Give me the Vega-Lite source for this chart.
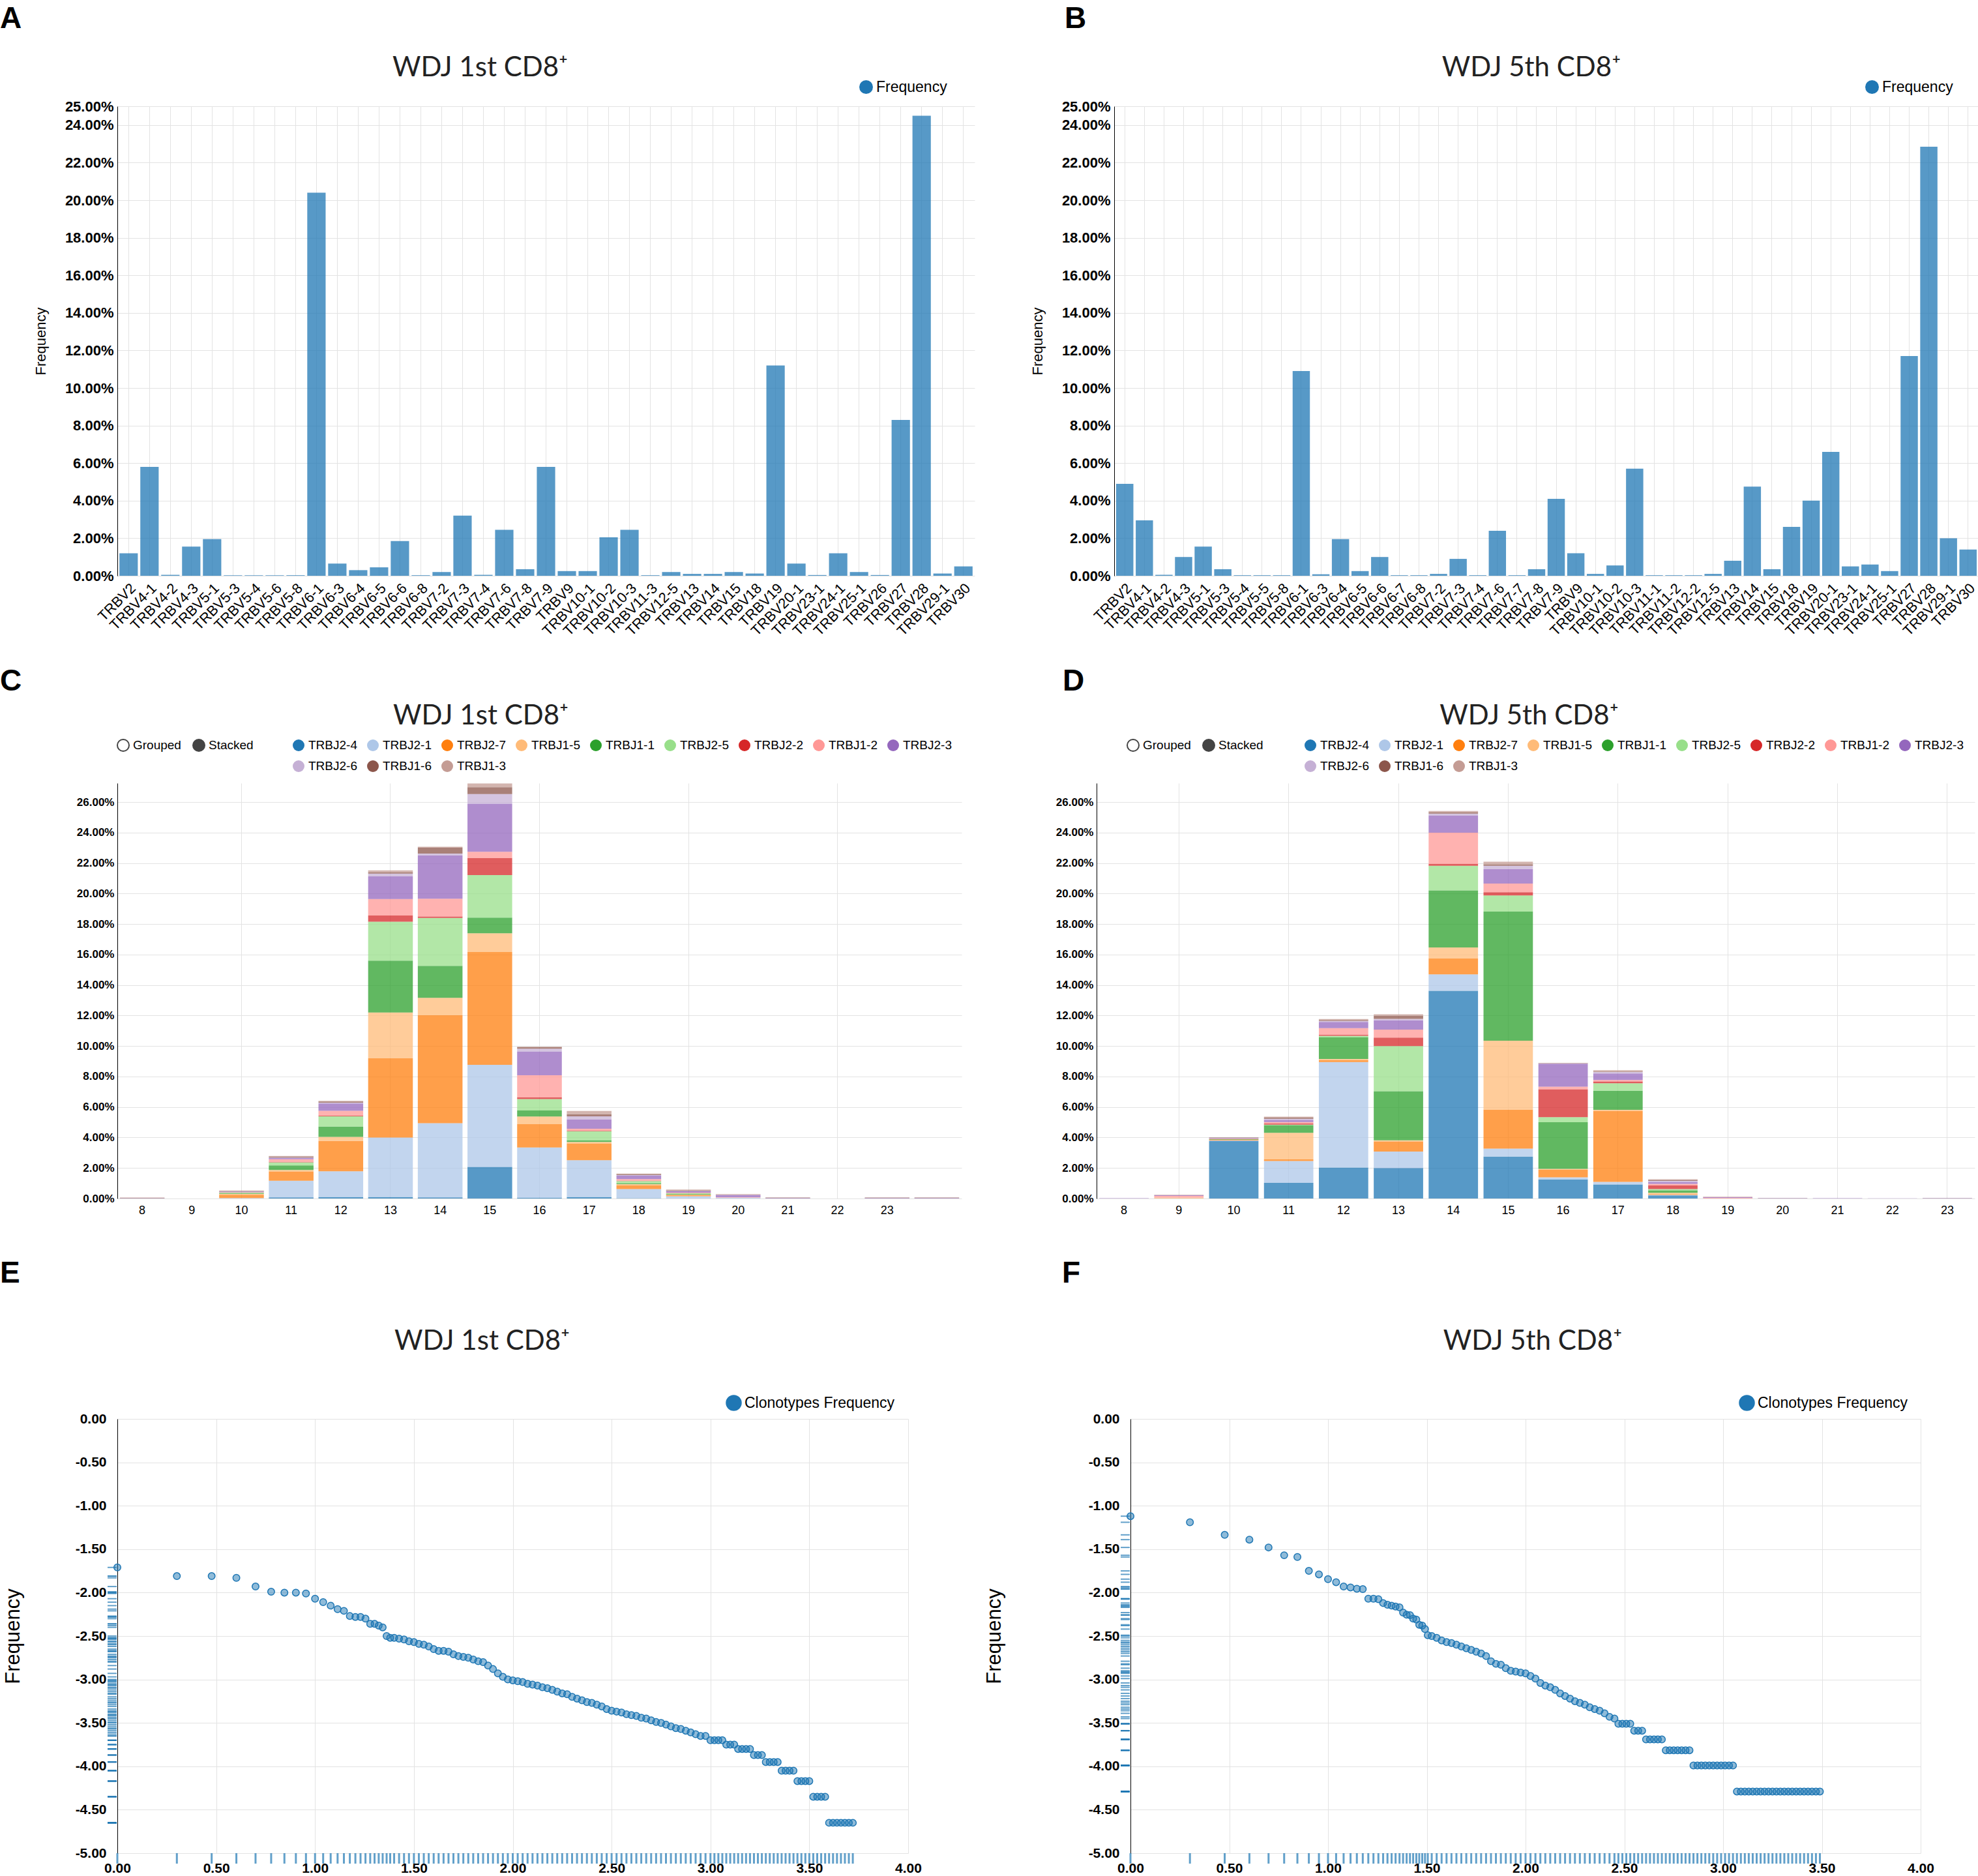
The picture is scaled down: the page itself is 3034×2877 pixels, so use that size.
{
"$schema": "https://vega.github.io/schema/vega-lite/v6.json",
"padding": {"top": 6, "left": 0, "right": 0, "bottom": 0},
"background": "white",
"spacing": 43,
"resolve": {"scale": {"color": "independent", "fill": "independent"}, "legend": {"color": "independent", "fill": "independent"}},
"config": {
  "view": {"stroke": null},
  "font": "Liberation Sans",
  "locale": {"number": {"decimal": ".", "thousands": ",", "grouping": [3], "currency": ["$", ""], "minus": "-"}},
  "title": {"font": "Lato", "fontSize": 42, "fontWeight": "normal", "color": "#222222"},
  "axis": {"labelFont": "Liberation Sans", "titleFont": "Liberation Sans", "labelColor": "#000000", "titleColor": "#000000", "gridColor": "#e3e3e3", "domainColor": "#000000", "ticks": false, "titleFontWeight": "normal"},
  "legend": {"labelFont": "Liberation Sans", "labelColor": "#000000", "labelLimit": 400}
},
"vconcat": [
{
  "spacing": 85,
  "resolve": {"scale": {"color": "independent", "fill": "independent"}, "legend": {"color": "independent", "fill": "independent"}},
  "hconcat": [
  {
    "title": {"text": "A", "anchor": "start", "frame": "group", "dx": -180, "font": "Liberation Sans", "fontSize": 46, "fontWeight": "bold", "color": "#000000", "offset": 30},
    "resolve": {"scale": {"color": "independent"}, "legend": {"color": "independent"}},
    "vconcat": [{
      "title": {"text": "WDJ  1st CD8⁺", "anchor": "middle", "frame": "group", "dx": -101, "offset": -4},
      "width": 1315, "height": 720,
      "data": {"values": [
        {"gene": "TRBV2", "freq": 1.2}, {"gene": "TRBV4-1", "freq": 5.8}, {"gene": "TRBV4-2", "freq": 0.05}, {"gene": "TRBV4-3", "freq": 1.55},
        {"gene": "TRBV5-1", "freq": 1.95}, {"gene": "TRBV5-3", "freq": 0.03}, {"gene": "TRBV5-4", "freq": 0.03}, {"gene": "TRBV5-6", "freq": 0.03},
        {"gene": "TRBV5-8", "freq": 0.03}, {"gene": "TRBV6-1", "freq": 20.4}, {"gene": "TRBV6-3", "freq": 0.65}, {"gene": "TRBV6-4", "freq": 0.3},
        {"gene": "TRBV6-5", "freq": 0.45}, {"gene": "TRBV6-6", "freq": 1.85}, {"gene": "TRBV6-8", "freq": 0.03}, {"gene": "TRBV7-2", "freq": 0.2},
        {"gene": "TRBV7-3", "freq": 3.2}, {"gene": "TRBV7-4", "freq": 0.05}, {"gene": "TRBV7-6", "freq": 2.45}, {"gene": "TRBV7-8", "freq": 0.35},
        {"gene": "TRBV7-9", "freq": 5.8}, {"gene": "TRBV9", "freq": 0.25}, {"gene": "TRBV10-1", "freq": 0.25}, {"gene": "TRBV10-2", "freq": 2.05},
        {"gene": "TRBV10-3", "freq": 2.45}, {"gene": "TRBV11-3", "freq": 0.03}, {"gene": "TRBV12-5", "freq": 0.2}, {"gene": "TRBV13", "freq": 0.1},
        {"gene": "TRBV14", "freq": 0.1}, {"gene": "TRBV15", "freq": 0.2}, {"gene": "TRBV18", "freq": 0.12}, {"gene": "TRBV19", "freq": 11.2},
        {"gene": "TRBV20-1", "freq": 0.65}, {"gene": "TRBV23-1", "freq": 0.04}, {"gene": "TRBV24-1", "freq": 1.2}, {"gene": "TRBV25-1", "freq": 0.2},
        {"gene": "TRBV26", "freq": 0.04}, {"gene": "TRBV27", "freq": 8.3}, {"gene": "TRBV28", "freq": 24.5}, {"gene": "TRBV29-1", "freq": 0.12},
        {"gene": "TRBV30", "freq": 0.5}
      ]},
      "mark": {"type": "bar", "fillOpacity": 0.75},
      "encoding": {
        "x": {"field": "gene", "type": "nominal", "sort": null, "scale": {"paddingInner": 0.12, "paddingOuter": 0.1},
              "axis": {"title": null, "labelAngle": -45, "labelFontSize": 22, "grid": true, "domain": false, "labelPadding": 8}},
        "y": {"field": "freq", "type": "quantitative", "scale": {"domain": [0, 25], "nice": false},
              "axis": {"values": [0, 2, 4, 6, 8, 10, 12, 14, 16, 18, 20, 22, 24, 25], "labelExpr": "format(datum.value, '.2f') + '%'", "title": "Frequency", "titleFontSize": 22, "titlePadding": 25, "labelFontWeight": "bold", "labelFontSize": 22, "labelPadding": 6}},
        "color": {"datum": "Frequency", "scale": {"domain": ["Frequency"], "range": ["#1f77b4"]},
                  "legend": {"title": null, "orient": "none", "legendX": 1137, "legendY": -41, "symbolType": "circle", "symbolSize": 441, "labelFontSize": 23, "symbolOpacity": 1}}
      }
    }]
  },
  {
    "title": {"text": "B", "anchor": "start", "frame": "group", "dx": -76, "font": "Liberation Sans", "fontSize": 46, "fontWeight": "bold", "color": "#000000", "offset": 30},
    "resolve": {"scale": {"color": "independent"}, "legend": {"color": "independent"}},
    "vconcat": [{
      "title": {"text": "WDJ  5th CD8⁺", "anchor": "middle", "frame": "group", "dx": -23, "offset": -4},
      "width": 1326, "height": 720,
      "data": {"values": [
        {"gene": "TRBV2", "freq": 4.9}, {"gene": "TRBV4-1", "freq": 2.95}, {"gene": "TRBV4-2", "freq": 0.05}, {"gene": "TRBV4-3", "freq": 1.0},
        {"gene": "TRBV5-1", "freq": 1.55}, {"gene": "TRBV5-3", "freq": 0.35}, {"gene": "TRBV5-4", "freq": 0.03}, {"gene": "TRBV5-5", "freq": 0.03},
        {"gene": "TRBV5-8", "freq": 0.03}, {"gene": "TRBV6-1", "freq": 10.9}, {"gene": "TRBV6-3", "freq": 0.08}, {"gene": "TRBV6-4", "freq": 1.95},
        {"gene": "TRBV6-5", "freq": 0.25}, {"gene": "TRBV6-6", "freq": 1.0}, {"gene": "TRBV6-7", "freq": 0.03}, {"gene": "TRBV6-8", "freq": 0.03},
        {"gene": "TRBV7-2", "freq": 0.1}, {"gene": "TRBV7-3", "freq": 0.9}, {"gene": "TRBV7-4", "freq": 0.03}, {"gene": "TRBV7-6", "freq": 2.4},
        {"gene": "TRBV7-7", "freq": 0.03}, {"gene": "TRBV7-8", "freq": 0.35}, {"gene": "TRBV7-9", "freq": 4.1}, {"gene": "TRBV9", "freq": 1.2},
        {"gene": "TRBV10-1", "freq": 0.1}, {"gene": "TRBV10-2", "freq": 0.55}, {"gene": "TRBV10-3", "freq": 5.7}, {"gene": "TRBV11-1", "freq": 0.03},
        {"gene": "TRBV11-2", "freq": 0.03}, {"gene": "TRBV12-2", "freq": 0.03}, {"gene": "TRBV12-5", "freq": 0.1}, {"gene": "TRBV13", "freq": 0.8},
        {"gene": "TRBV14", "freq": 4.75}, {"gene": "TRBV15", "freq": 0.35}, {"gene": "TRBV18", "freq": 2.6}, {"gene": "TRBV19", "freq": 4.0},
        {"gene": "TRBV20-1", "freq": 6.6}, {"gene": "TRBV23-1", "freq": 0.5}, {"gene": "TRBV24-1", "freq": 0.6}, {"gene": "TRBV25-1", "freq": 0.25},
        {"gene": "TRBV27", "freq": 11.7}, {"gene": "TRBV28", "freq": 22.85}, {"gene": "TRBV29-1", "freq": 2.0}, {"gene": "TRBV30", "freq": 1.4}
      ]},
      "mark": {"type": "bar", "fillOpacity": 0.75},
      "encoding": {
        "x": {"field": "gene", "type": "nominal", "sort": null, "scale": {"paddingInner": 0.12, "paddingOuter": 0.1},
              "axis": {"title": null, "labelAngle": -45, "labelFontSize": 22, "grid": true, "domain": false, "labelPadding": 8}},
        "y": {"field": "freq", "type": "quantitative", "scale": {"domain": [0, 25], "nice": false},
              "axis": {"values": [0, 2, 4, 6, 8, 10, 12, 14, 16, 18, 20, 22, 24, 25], "labelExpr": "format(datum.value, '.2f') + '%'", "title": "Frequency", "titleFontSize": 22, "titlePadding": 25, "labelFontWeight": "bold", "labelFontSize": 22, "labelPadding": 6}},
        "color": {"datum": "Frequency", "scale": {"domain": ["Frequency"], "range": ["#1f77b4"]},
                  "legend": {"title": null, "orient": "none", "legendX": 1151, "legendY": -41, "symbolType": "circle", "symbolSize": 441, "labelFontSize": 23, "symbolOpacity": 1}}
      }
    }]
  }
  ]
},
{
  "spacing": 65,
  "resolve": {"scale": {"color": "independent", "fill": "independent"}, "legend": {"color": "independent", "fill": "independent"}},
  "vconcat": [
  {
    "spacing": 144,
    "resolve": {"scale": {"color": "independent", "fill": "independent"}, "legend": {"color": "independent", "fill": "independent"}},
    "hconcat": [
    {
      "title": {"text": "C", "anchor": "start", "frame": "group", "dx": -180, "font": "Liberation Sans", "fontSize": 46, "fontWeight": "bold", "color": "#000000", "offset": 8},
      "resolve": {"scale": {"color": "independent", "fill": "independent"}, "legend": {"color": "independent", "fill": "independent"}},
      "vconcat": [{
        "title": {"text": "WDJ  1st CD8⁺", "anchor": "middle", "frame": "group", "dx": -90, "offset": 13},
        "width": 1295, "height": 637,
        "resolve": {"scale": {"color": "independent", "fill": "independent"}, "legend": {"color": "independent", "fill": "independent"}},
        "layer": [
        {
          "data": {"values": [
            {"len": "8", "j": "TRBJ2-3", "v": 0.02}, {"len": "8", "j": "TRBJ1-6", "v": 0.02}, {"len": "8", "j": "TRBJ1-3", "v": 0.02},
            {"len": "10", "j": "TRBJ2-1", "v": 0.03}, {"len": "10", "j": "TRBJ2-7", "v": 0.22}, {"len": "10", "j": "TRBJ1-5", "v": 0.06}, {"len": "10", "j": "TRBJ1-1", "v": 0.05}, {"len": "10", "j": "TRBJ2-5", "v": 0.03}, {"len": "10", "j": "TRBJ1-2", "v": 0.03}, {"len": "10", "j": "TRBJ2-3", "v": 0.04}, {"len": "10", "j": "TRBJ1-6", "v": 0.03}, {"len": "10", "j": "TRBJ1-3", "v": 0.03},
            {"len": "11", "j": "TRBJ2-4", "v": 0.07}, {"len": "11", "j": "TRBJ2-1", "v": 1.1}, {"len": "11", "j": "TRBJ2-7", "v": 0.6}, {"len": "11", "j": "TRBJ1-5", "v": 0.1}, {"len": "11", "j": "TRBJ1-1", "v": 0.3}, {"len": "11", "j": "TRBJ2-5", "v": 0.2}, {"len": "11", "j": "TRBJ2-2", "v": 0.04}, {"len": "11", "j": "TRBJ1-2", "v": 0.17}, {"len": "11", "j": "TRBJ2-3", "v": 0.07}, {"len": "11", "j": "TRBJ2-6", "v": 0.03}, {"len": "11", "j": "TRBJ1-6", "v": 0.07}, {"len": "11", "j": "TRBJ1-3", "v": 0.04},
            {"len": "12", "j": "TRBJ2-4", "v": 0.1}, {"len": "12", "j": "TRBJ2-1", "v": 1.69}, {"len": "12", "j": "TRBJ2-7", "v": 1.98}, {"len": "12", "j": "TRBJ1-5", "v": 0.27}, {"len": "12", "j": "TRBJ1-1", "v": 0.68}, {"len": "12", "j": "TRBJ2-5", "v": 0.67}, {"len": "12", "j": "TRBJ2-2", "v": 0.04}, {"len": "12", "j": "TRBJ1-2", "v": 0.32}, {"len": "12", "j": "TRBJ2-3", "v": 0.49}, {"len": "12", "j": "TRBJ2-6", "v": 0.05}, {"len": "12", "j": "TRBJ1-6", "v": 0.07}, {"len": "12", "j": "TRBJ1-3", "v": 0.05},
            {"len": "13", "j": "TRBJ2-4", "v": 0.1}, {"len": "13", "j": "TRBJ2-1", "v": 3.9}, {"len": "13", "j": "TRBJ2-7", "v": 5.2}, {"len": "13", "j": "TRBJ1-5", "v": 3.0}, {"len": "13", "j": "TRBJ1-1", "v": 3.4}, {"len": "13", "j": "TRBJ2-5", "v": 2.56}, {"len": "13", "j": "TRBJ2-2", "v": 0.41}, {"len": "13", "j": "TRBJ1-2", "v": 1.08}, {"len": "13", "j": "TRBJ2-3", "v": 1.48}, {"len": "13", "j": "TRBJ2-6", "v": 0.18}, {"len": "13", "j": "TRBJ1-6", "v": 0.1}, {"len": "13", "j": "TRBJ1-3", "v": 0.12},
            {"len": "14", "j": "TRBJ2-4", "v": 0.08}, {"len": "14", "j": "TRBJ2-1", "v": 4.86}, {"len": "14", "j": "TRBJ2-7", "v": 7.08}, {"len": "14", "j": "TRBJ1-5", "v": 1.15}, {"len": "14", "j": "TRBJ1-1", "v": 2.09}, {"len": "14", "j": "TRBJ2-5", "v": 3.15}, {"len": "14", "j": "TRBJ2-2", "v": 0.09}, {"len": "14", "j": "TRBJ1-2", "v": 1.17}, {"len": "14", "j": "TRBJ2-3", "v": 2.83}, {"len": "14", "j": "TRBJ2-6", "v": 0.13}, {"len": "14", "j": "TRBJ1-6", "v": 0.38}, {"len": "14", "j": "TRBJ1-3", "v": 0.07},
            {"len": "15", "j": "TRBJ2-4", "v": 2.07}, {"len": "15", "j": "TRBJ2-1", "v": 6.7}, {"len": "15", "j": "TRBJ2-7", "v": 7.4}, {"len": "15", "j": "TRBJ1-5", "v": 1.23}, {"len": "15", "j": "TRBJ1-1", "v": 1.03}, {"len": "15", "j": "TRBJ2-5", "v": 2.79}, {"len": "15", "j": "TRBJ2-2", "v": 1.12}, {"len": "15", "j": "TRBJ1-2", "v": 0.41}, {"len": "15", "j": "TRBJ2-3", "v": 3.15}, {"len": "15", "j": "TRBJ2-6", "v": 0.63}, {"len": "15", "j": "TRBJ1-6", "v": 0.45}, {"len": "15", "j": "TRBJ1-3", "v": 0.25},
            {"len": "16", "j": "TRBJ2-4", "v": 0.05}, {"len": "16", "j": "TRBJ2-1", "v": 3.3}, {"len": "16", "j": "TRBJ2-7", "v": 1.53}, {"len": "16", "j": "TRBJ1-5", "v": 0.5}, {"len": "16", "j": "TRBJ1-1", "v": 0.4}, {"len": "16", "j": "TRBJ2-5", "v": 0.74}, {"len": "16", "j": "TRBJ2-2", "v": 0.12}, {"len": "16", "j": "TRBJ1-2", "v": 1.44}, {"len": "16", "j": "TRBJ2-3", "v": 1.57}, {"len": "16", "j": "TRBJ2-6", "v": 0.18}, {"len": "16", "j": "TRBJ1-6", "v": 0.1}, {"len": "16", "j": "TRBJ1-3", "v": 0.03},
            {"len": "17", "j": "TRBJ2-4", "v": 0.1}, {"len": "17", "j": "TRBJ2-1", "v": 2.41}, {"len": "17", "j": "TRBJ2-7", "v": 1.1}, {"len": "17", "j": "TRBJ1-5", "v": 0.1}, {"len": "17", "j": "TRBJ1-1", "v": 0.11}, {"len": "17", "j": "TRBJ2-5", "v": 0.6}, {"len": "17", "j": "TRBJ2-2", "v": 0.03}, {"len": "17", "j": "TRBJ1-2", "v": 0.13}, {"len": "17", "j": "TRBJ2-3", "v": 0.6}, {"len": "17", "j": "TRBJ2-6", "v": 0.21}, {"len": "17", "j": "TRBJ1-6", "v": 0.14}, {"len": "17", "j": "TRBJ1-3", "v": 0.21},
            {"len": "18", "j": "TRBJ2-4", "v": 0.02}, {"len": "18", "j": "TRBJ2-1", "v": 0.6}, {"len": "18", "j": "TRBJ2-7", "v": 0.24}, {"len": "18", "j": "TRBJ1-5", "v": 0.08}, {"len": "18", "j": "TRBJ1-1", "v": 0.06}, {"len": "18", "j": "TRBJ2-5", "v": 0.14}, {"len": "18", "j": "TRBJ2-2", "v": 0.03}, {"len": "18", "j": "TRBJ1-2", "v": 0.1}, {"len": "18", "j": "TRBJ2-3", "v": 0.23}, {"len": "18", "j": "TRBJ2-6", "v": 0.04}, {"len": "18", "j": "TRBJ1-6", "v": 0.06}, {"len": "18", "j": "TRBJ1-3", "v": 0.04},
            {"len": "19", "j": "TRBJ2-1", "v": 0.15}, {"len": "19", "j": "TRBJ2-7", "v": 0.07}, {"len": "19", "j": "TRBJ1-5", "v": 0.04}, {"len": "19", "j": "TRBJ1-1", "v": 0.04}, {"len": "19", "j": "TRBJ2-5", "v": 0.04}, {"len": "19", "j": "TRBJ1-2", "v": 0.05}, {"len": "19", "j": "TRBJ2-3", "v": 0.1}, {"len": "19", "j": "TRBJ1-6", "v": 0.05}, {"len": "19", "j": "TRBJ1-3", "v": 0.05},
            {"len": "20", "j": "TRBJ2-1", "v": 0.05}, {"len": "20", "j": "TRBJ1-2", "v": 0.04}, {"len": "20", "j": "TRBJ2-3", "v": 0.15}, {"len": "20", "j": "TRBJ1-3", "v": 0.05},
            {"len": "21", "j": "TRBJ2-3", "v": 0.03}, {"len": "21", "j": "TRBJ1-6", "v": 0.03},
            {"len": "23", "j": "TRBJ2-3", "v": 0.03}, {"len": "23", "j": "TRBJ1-6", "v": 0.03},
            {"len": "24", "j": "TRBJ2-3", "v": 0.03}, {"len": "24", "j": "TRBJ1-6", "v": 0.03}
          ]},
          "transform": [{"calculate": "indexof(['TRBJ2-4','TRBJ2-1','TRBJ2-7','TRBJ1-5','TRBJ1-1','TRBJ2-5','TRBJ2-2','TRBJ1-2','TRBJ2-3','TRBJ2-6','TRBJ1-6','TRBJ1-3'], datum.j)", "as": "jorder"}],
          "mark": {"type": "bar", "fillOpacity": 0.75},
          "encoding": {
            "x": {"field": "len", "type": "ordinal", "scale": {"domain": ["8","9","10","11","12","13","14","15","16","17","18","19","20","21","22","23","24"], "paddingInner": 0.1, "paddingOuter": 0.05},
                  "axis": {"title": null, "labelAngle": 0, "labelFontSize": 18, "labelExpr": "datum.value == '24' ? '' : datum.label", "grid": true, "gridOpacity": {"condition": {"test": "indexof(['10','13','16','19','22'], datum.value) >= 0", "value": 1}, "value": 0}, "domain": false, "labelPadding": 9}},
            "y": {"field": "v", "type": "quantitative", "stack": "zero", "scale": {"domain": [0, 27.25], "nice": false},
                  "axis": {"title": null, "values": [0, 2, 4, 6, 8, 10, 12, 14, 16, 18, 20, 22, 24, 26], "labelExpr": "format(datum.value, '.2f') + '%'", "labelFontWeight": "bold", "labelFontSize": 17, "labelPadding": 5}},
            "color": {"field": "j", "type": "nominal",
                      "scale": {"domain": ["TRBJ2-4","TRBJ2-1","TRBJ2-7","TRBJ1-5","TRBJ1-1","TRBJ2-5","TRBJ2-2","TRBJ1-2","TRBJ2-3","TRBJ2-6","TRBJ1-6","TRBJ1-3"],
                                "range": ["#1f77b4","#aec7e8","#ff7f0e","#ffbb78","#2ca02c","#98df8a","#d62728","#ff9896","#9467bd","#c5b0d5","#8c564b","#c49c94"]},
                      "legend": {"title": null, "orient": "none", "legendX": 268, "legendY": -68, "direction": "horizontal", "columns": 9, "columnPadding": 14, "rowPadding": 12, "symbolType": "circle", "symbolSize": 324, "labelFontSize": 19, "labelOffset": 5, "symbolOpacity": 1}},
            "order": {"field": "jorder", "type": "quantitative", "sort": "ascending"}
          }
        },
        {
          "data": {"values": [{"ctl": "Grouped"}, {"ctl": "Stacked"}]},
          "mark": {"type": "point", "filled": true, "size": 0},
          "encoding": {
            "fill": {"field": "ctl", "type": "nominal", "scale": {"domain": ["Grouped", "Stacked"], "range": ["#ffffff", "#444444"]},
                     "legend": {"title": null, "orient": "none", "legendX": -1, "legendY": -68, "direction": "horizontal", "columns": 2, "columnPadding": 14, "symbolType": "circle", "symbolSize": 324, "symbolStrokeColor": "#444444", "symbolStrokeWidth": 2, "labelFontSize": 19, "labelOffset": 5, "symbolOpacity": 1}}
          }
        }
        ]
      }]
    },
    {
      "title": {"text": "D", "anchor": "start", "frame": "group", "dx": -52, "font": "Liberation Sans", "fontSize": 46, "fontWeight": "bold", "color": "#000000", "offset": 8},
      "resolve": {"scale": {"color": "independent", "fill": "independent"}, "legend": {"color": "independent", "fill": "independent"}},
      "vconcat": [{
        "title": {"text": "WDJ  5th CD8⁺", "anchor": "middle", "frame": "group", "dx": -10, "offset": 13},
        "width": 1347, "height": 637,
        "resolve": {"scale": {"color": "independent", "fill": "independent"}, "legend": {"color": "independent", "fill": "independent"}},
        "layer": [
        {
          "data": {"values": [
            {"len": "8", "j": "TRBJ2-3", "v": 0.02},
            {"len": "9", "j": "TRBJ1-5", "v": 0.05}, {"len": "9", "j": "TRBJ1-2", "v": 0.12}, {"len": "9", "j": "TRBJ2-3", "v": 0.04}, {"len": "9", "j": "TRBJ1-3", "v": 0.04},
            {"len": "10", "j": "TRBJ2-4", "v": 3.78}, {"len": "10", "j": "TRBJ2-1", "v": 0.03}, {"len": "10", "j": "TRBJ2-7", "v": 0.05}, {"len": "10", "j": "TRBJ1-1", "v": 0.03}, {"len": "10", "j": "TRBJ1-2", "v": 0.03}, {"len": "10", "j": "TRBJ2-3", "v": 0.05}, {"len": "10", "j": "TRBJ1-6", "v": 0.03},
            {"len": "11", "j": "TRBJ2-4", "v": 1.03}, {"len": "11", "j": "TRBJ2-1", "v": 1.43}, {"len": "11", "j": "TRBJ2-7", "v": 0.11}, {"len": "11", "j": "TRBJ1-5", "v": 1.74}, {"len": "11", "j": "TRBJ1-1", "v": 0.5}, {"len": "11", "j": "TRBJ2-5", "v": 0.04}, {"len": "11", "j": "TRBJ2-2", "v": 0.07}, {"len": "11", "j": "TRBJ1-2", "v": 0.1}, {"len": "11", "j": "TRBJ2-3", "v": 0.14}, {"len": "11", "j": "TRBJ2-6", "v": 0.07}, {"len": "11", "j": "TRBJ1-6", "v": 0.07}, {"len": "11", "j": "TRBJ1-3", "v": 0.07},
            {"len": "12", "j": "TRBJ2-4", "v": 2.03}, {"len": "12", "j": "TRBJ2-1", "v": 6.92}, {"len": "12", "j": "TRBJ2-7", "v": 0.12}, {"len": "12", "j": "TRBJ1-5", "v": 0.08}, {"len": "12", "j": "TRBJ1-1", "v": 1.44}, {"len": "12", "j": "TRBJ2-5", "v": 0.08}, {"len": "12", "j": "TRBJ2-2", "v": 0.08}, {"len": "12", "j": "TRBJ1-2", "v": 0.43}, {"len": "12", "j": "TRBJ2-3", "v": 0.4}, {"len": "12", "j": "TRBJ2-6", "v": 0.07}, {"len": "12", "j": "TRBJ1-6", "v": 0.06}, {"len": "12", "j": "TRBJ1-3", "v": 0.07},
            {"len": "13", "j": "TRBJ2-4", "v": 2.0}, {"len": "13", "j": "TRBJ2-1", "v": 1.08}, {"len": "13", "j": "TRBJ2-7", "v": 0.66}, {"len": "13", "j": "TRBJ1-5", "v": 0.08}, {"len": "13", "j": "TRBJ1-1", "v": 3.22}, {"len": "13", "j": "TRBJ2-5", "v": 2.96}, {"len": "13", "j": "TRBJ2-2", "v": 0.56}, {"len": "13", "j": "TRBJ1-2", "v": 0.52}, {"len": "13", "j": "TRBJ2-3", "v": 0.61}, {"len": "13", "j": "TRBJ2-6", "v": 0.1}, {"len": "13", "j": "TRBJ1-6", "v": 0.2}, {"len": "13", "j": "TRBJ1-3", "v": 0.09},
            {"len": "14", "j": "TRBJ2-4", "v": 13.62}, {"len": "14", "j": "TRBJ2-1", "v": 1.08}, {"len": "14", "j": "TRBJ2-7", "v": 1.04}, {"len": "14", "j": "TRBJ1-5", "v": 0.73}, {"len": "14", "j": "TRBJ1-1", "v": 3.74}, {"len": "14", "j": "TRBJ2-5", "v": 1.62}, {"len": "14", "j": "TRBJ2-2", "v": 0.12}, {"len": "14", "j": "TRBJ1-2", "v": 2.05}, {"len": "14", "j": "TRBJ2-3", "v": 1.13}, {"len": "14", "j": "TRBJ2-6", "v": 0.12}, {"len": "14", "j": "TRBJ1-6", "v": 0.1}, {"len": "14", "j": "TRBJ1-3", "v": 0.07},
            {"len": "15", "j": "TRBJ2-4", "v": 2.75}, {"len": "15", "j": "TRBJ2-1", "v": 0.52}, {"len": "15", "j": "TRBJ2-7", "v": 2.56}, {"len": "15", "j": "TRBJ1-5", "v": 4.52}, {"len": "15", "j": "TRBJ1-1", "v": 8.47}, {"len": "15", "j": "TRBJ2-5", "v": 1.06}, {"len": "15", "j": "TRBJ2-2", "v": 0.21}, {"len": "15", "j": "TRBJ1-2", "v": 0.57}, {"len": "15", "j": "TRBJ2-3", "v": 0.94}, {"len": "15", "j": "TRBJ2-6", "v": 0.23}, {"len": "15", "j": "TRBJ1-6", "v": 0.09}, {"len": "15", "j": "TRBJ1-3", "v": 0.17},
            {"len": "16", "j": "TRBJ2-4", "v": 1.25}, {"len": "16", "j": "TRBJ2-1", "v": 0.14}, {"len": "16", "j": "TRBJ2-7", "v": 0.49}, {"len": "16", "j": "TRBJ1-5", "v": 0.07}, {"len": "16", "j": "TRBJ1-1", "v": 3.06}, {"len": "16", "j": "TRBJ2-5", "v": 0.33}, {"len": "16", "j": "TRBJ2-2", "v": 1.83}, {"len": "16", "j": "TRBJ1-2", "v": 0.17}, {"len": "16", "j": "TRBJ2-3", "v": 1.5}, {"len": "16", "j": "TRBJ2-6", "v": 0.02}, {"len": "16", "j": "TRBJ1-6", "v": 0.02}, {"len": "16", "j": "TRBJ1-3", "v": 0.02},
            {"len": "17", "j": "TRBJ2-4", "v": 0.92}, {"len": "17", "j": "TRBJ2-1", "v": 0.17}, {"len": "17", "j": "TRBJ2-7", "v": 4.64}, {"len": "17", "j": "TRBJ1-5", "v": 0.09}, {"len": "17", "j": "TRBJ1-1", "v": 1.25}, {"len": "17", "j": "TRBJ2-5", "v": 0.49}, {"len": "17", "j": "TRBJ2-2", "v": 0.12}, {"len": "17", "j": "TRBJ1-2", "v": 0.1}, {"len": "17", "j": "TRBJ2-3", "v": 0.42}, {"len": "17", "j": "TRBJ2-6", "v": 0.1}, {"len": "17", "j": "TRBJ1-6", "v": 0.03}, {"len": "17", "j": "TRBJ1-3", "v": 0.09},
            {"len": "18", "j": "TRBJ2-4", "v": 0.2}, {"len": "18", "j": "TRBJ2-1", "v": 0.03}, {"len": "18", "j": "TRBJ2-7", "v": 0.06}, {"len": "18", "j": "TRBJ1-5", "v": 0.08}, {"len": "18", "j": "TRBJ1-1", "v": 0.17}, {"len": "18", "j": "TRBJ2-5", "v": 0.08}, {"len": "18", "j": "TRBJ2-2", "v": 0.24}, {"len": "18", "j": "TRBJ1-2", "v": 0.1}, {"len": "18", "j": "TRBJ2-3", "v": 0.12}, {"len": "18", "j": "TRBJ2-6", "v": 0.08}, {"len": "18", "j": "TRBJ1-6", "v": 0.06}, {"len": "18", "j": "TRBJ1-3", "v": 0.04},
            {"len": "19", "j": "TRBJ1-2", "v": 0.04}, {"len": "19", "j": "TRBJ2-3", "v": 0.05}, {"len": "19", "j": "TRBJ1-3", "v": 0.03},
            {"len": "20", "j": "TRBJ2-3", "v": 0.02}, {"len": "20", "j": "TRBJ1-6", "v": 0.01},
            {"len": "21", "j": "TRBJ2-3", "v": 0.02},
            {"len": "22", "j": "TRBJ2-3", "v": 0.01},
            {"len": "23", "j": "TRBJ2-3", "v": 0.02}, {"len": "23", "j": "TRBJ1-6", "v": 0.01}
          ]},
          "transform": [{"calculate": "indexof(['TRBJ2-4','TRBJ2-1','TRBJ2-7','TRBJ1-5','TRBJ1-1','TRBJ2-5','TRBJ2-2','TRBJ1-2','TRBJ2-3','TRBJ2-6','TRBJ1-6','TRBJ1-3'], datum.j)", "as": "jorder"}],
          "mark": {"type": "bar", "fillOpacity": 0.75},
          "encoding": {
            "x": {"field": "len", "type": "ordinal", "scale": {"domain": ["8","9","10","11","12","13","14","15","16","17","18","19","20","21","22","23"], "paddingInner": 0.1, "paddingOuter": 0.05},
                  "axis": {"title": null, "labelAngle": 0, "labelFontSize": 18, "grid": true, "gridOpacity": {"condition": {"test": "indexof(['9','11','13','15','17','19','21','23'], datum.value) >= 0", "value": 1}, "value": 0}, "domain": false, "labelPadding": 9}},
            "y": {"field": "v", "type": "quantitative", "stack": "zero", "scale": {"domain": [0, 27.25], "nice": false},
                  "axis": {"title": null, "values": [0, 2, 4, 6, 8, 10, 12, 14, 16, 18, 20, 22, 24, 26], "labelExpr": "format(datum.value, '.2f') + '%'", "labelFontWeight": "bold", "labelFontSize": 17, "labelPadding": 5}},
            "color": {"field": "j", "type": "nominal",
                      "scale": {"domain": ["TRBJ2-4","TRBJ2-1","TRBJ2-7","TRBJ1-5","TRBJ1-1","TRBJ2-5","TRBJ2-2","TRBJ1-2","TRBJ2-3","TRBJ2-6","TRBJ1-6","TRBJ1-3"],
                                "range": ["#1f77b4","#aec7e8","#ff7f0e","#ffbb78","#2ca02c","#98df8a","#d62728","#ff9896","#9467bd","#c5b0d5","#8c564b","#c49c94"]},
                      "legend": {"title": null, "orient": "none", "legendX": 318, "legendY": -68, "direction": "horizontal", "columns": 9, "columnPadding": 14, "rowPadding": 12, "symbolType": "circle", "symbolSize": 324, "labelFontSize": 19, "labelOffset": 5, "symbolOpacity": 1}},
            "order": {"field": "jorder", "type": "quantitative", "sort": "ascending"}
          }
        },
        {
          "data": {"values": [{"ctl": "Grouped"}, {"ctl": "Stacked"}]},
          "mark": {"type": "point", "filled": true, "size": 0},
          "encoding": {
            "fill": {"field": "ctl", "type": "nominal", "scale": {"domain": ["Grouped", "Stacked"], "range": ["#ffffff", "#444444"]},
                     "legend": {"title": null, "orient": "none", "legendX": 46, "legendY": -68, "direction": "horizontal", "columns": 2, "columnPadding": 14, "symbolType": "circle", "symbolSize": 324, "symbolStrokeColor": "#444444", "symbolStrokeWidth": 2, "labelFontSize": 19, "labelOffset": 5, "symbolOpacity": 1}}
          }
        }
        ]
      }]
    }
    ]
  },
  {
    "spacing": 95,
    "resolve": {"scale": {"color": "independent"}, "legend": {"color": "independent"}},
    "hconcat": [
    {
      "title": {"text": "E", "anchor": "start", "frame": "group", "dx": -180, "font": "Liberation Sans", "fontSize": 46, "fontWeight": "bold", "color": "#000000", "offset": 59},
      "resolve": {"scale": {"color": "independent"}, "legend": {"color": "independent"}},
      "vconcat": [{
        "title": {"text": "WDJ  1st CD8⁺", "anchor": "middle", "frame": "group", "dx": -47, "offset": 60},
        "width": 1213, "height": 666,
        "data": {"values": [
          {"x": 0, "y": -1.71}, {"x": 0.301, "y": -1.81}, {"x": 0.477, "y": -1.81}, {"x": 0.602, "y": -1.83}, {"x": 0.699, "y": -1.93},
          {"x": 0.778, "y": -1.99}, {"x": 0.845, "y": -2.0}, {"x": 0.903, "y": -2.0}, {"x": 0.954, "y": -2.01}, {"x": 1.0, "y": -2.07},
          {"x": 1.041, "y": -2.11}, {"x": 1.079, "y": -2.15}, {"x": 1.114, "y": -2.19}, {"x": 1.146, "y": -2.21}, {"x": 1.176, "y": -2.27},
          {"x": 1.204, "y": -2.28}, {"x": 1.23, "y": -2.28}, {"x": 1.255, "y": -2.3}, {"x": 1.279, "y": -2.36}, {"x": 1.301, "y": -2.36},
          {"x": 1.322, "y": -2.38}, {"x": 1.342, "y": -2.4}, {"x": 1.362, "y": -2.5}, {"x": 1.38, "y": -2.52},
          {"x": 1.4, "y": -2.52}, {"x": 1.425, "y": -2.53}, {"x": 1.45, "y": -2.54}, {"x": 1.475, "y": -2.56}, {"x": 1.5, "y": -2.57},
          {"x": 1.525, "y": -2.59}, {"x": 1.55, "y": -2.6}, {"x": 1.575, "y": -2.62}, {"x": 1.6, "y": -2.65}, {"x": 1.625, "y": -2.67},
          {"x": 1.65, "y": -2.67}, {"x": 1.675, "y": -2.68}, {"x": 1.7, "y": -2.71}, {"x": 1.725, "y": -2.73}, {"x": 1.75, "y": -2.74},
          {"x": 1.775, "y": -2.75}, {"x": 1.8, "y": -2.77}, {"x": 1.825, "y": -2.79}, {"x": 1.85, "y": -2.8}, {"x": 1.875, "y": -2.84},
          {"x": 1.9, "y": -2.88}, {"x": 1.925, "y": -2.93}, {"x": 1.95, "y": -2.97}, {"x": 1.975, "y": -3.0}, {"x": 2.0, "y": -3.01},
          {"x": 2.025, "y": -3.02}, {"x": 2.05, "y": -3.03}, {"x": 2.075, "y": -3.05}, {"x": 2.1, "y": -3.06}, {"x": 2.125, "y": -3.07},
          {"x": 2.15, "y": -3.09}, {"x": 2.175, "y": -3.1}, {"x": 2.2, "y": -3.12}, {"x": 2.225, "y": -3.14}, {"x": 2.25, "y": -3.16},
          {"x": 2.275, "y": -3.17}, {"x": 2.3, "y": -3.2}, {"x": 2.325, "y": -3.22}, {"x": 2.35, "y": -3.24}, {"x": 2.375, "y": -3.26},
          {"x": 2.4, "y": -3.27}, {"x": 2.425, "y": -3.29}, {"x": 2.45, "y": -3.31}, {"x": 2.475, "y": -3.34}, {"x": 2.5, "y": -3.36},
          {"x": 2.525, "y": -3.37}, {"x": 2.55, "y": -3.38}, {"x": 2.575, "y": -3.4}, {"x": 2.6, "y": -3.41}, {"x": 2.625, "y": -3.42},
          {"x": 2.65, "y": -3.44}, {"x": 2.675, "y": -3.45}, {"x": 2.7, "y": -3.47}, {"x": 2.725, "y": -3.49}, {"x": 2.75, "y": -3.5},
          {"x": 2.775, "y": -3.52}, {"x": 2.8, "y": -3.54}, {"x": 2.825, "y": -3.56}, {"x": 2.85, "y": -3.57}, {"x": 2.875, "y": -3.59},
          {"x": 2.9, "y": -3.61}, {"x": 2.925, "y": -3.63}, {"x": 2.95, "y": -3.65}, {"x": 2.975, "y": -3.65},
          {"x": 3.0, "y": -3.7}, {"x": 3.02, "y": -3.7}, {"x": 3.04, "y": -3.7}, {"x": 3.06, "y": -3.7},
          {"x": 3.08, "y": -3.75}, {"x": 3.1, "y": -3.75}, {"x": 3.12, "y": -3.75},
          {"x": 3.14, "y": -3.8}, {"x": 3.16, "y": -3.8}, {"x": 3.18, "y": -3.8}, {"x": 3.2, "y": -3.8},
          {"x": 3.22, "y": -3.87}, {"x": 3.24, "y": -3.87}, {"x": 3.26, "y": -3.87},
          {"x": 3.28, "y": -3.95}, {"x": 3.3, "y": -3.95}, {"x": 3.32, "y": -3.95}, {"x": 3.34, "y": -3.95},
          {"x": 3.36, "y": -4.05}, {"x": 3.38, "y": -4.05}, {"x": 3.4, "y": -4.05}, {"x": 3.42, "y": -4.05},
          {"x": 3.44, "y": -4.17}, {"x": 3.46, "y": -4.17}, {"x": 3.48, "y": -4.17}, {"x": 3.5, "y": -4.17},
          {"x": 3.52, "y": -4.35}, {"x": 3.54, "y": -4.35}, {"x": 3.56, "y": -4.35}, {"x": 3.58, "y": -4.35},
          {"x": 3.6, "y": -4.65}, {"x": 3.62, "y": -4.65}, {"x": 3.64, "y": -4.65}, {"x": 3.66, "y": -4.65}, {"x": 3.68, "y": -4.65}, {"x": 3.7, "y": -4.65}, {"x": 3.72, "y": -4.65}
        ]},
        "encoding": {
          "x": {"field": "x", "type": "quantitative", "scale": {"domain": [0, 4], "nice": false},
                "axis": {"title": null, "values": [0, 0.5, 1, 1.5, 2, 2.5, 3, 3.5, 4], "format": ".2f", "labelFontWeight": "bold", "labelFontSize": 21, "domain": false, "labelPadding": 12, "labelFlush": false, "grid": true}},
          "y": {"field": "y", "type": "quantitative", "scale": {"domain": [-5, 0], "nice": false},
                "axis": {"title": "Frequency", "titleFontSize": 31, "titlePadding": 79, "values": [0, -0.5, -1, -1.5, -2, -2.5, -3, -3.5, -4, -4.5, -5], "format": ".2f", "labelFontWeight": "bold", "labelFontSize": 21, "labelPadding": 17, "grid": true}}
        },
        "layer": [
          {"mark": {"type": "tick", "orient": "vertical", "size": 16, "thickness": 3, "yOffset": 8, "color": "#1f77b4"},
           "encoding": {"y": {"datum": -5}}},
          {"mark": {"type": "tick", "orient": "horizontal", "size": 14, "thickness": 2, "xOffset": -8, "color": "#1f77b4"},
           "encoding": {"x": {"datum": 0}}},
          {"mark": {"type": "point", "shape": "circle", "filled": true, "size": 110, "fillOpacity": 0.5, "stroke": "#1f77b4", "strokeWidth": 1.5, "strokeOpacity": 1},
           "encoding": {"color": {"datum": "Clonotypes Frequency", "scale": {"domain": ["Clonotypes Frequency"], "range": ["#1f77b4"]},
                        "legend": {"title": null, "orient": "none", "legendX": 933, "legendY": -37, "symbolType": "circle", "symbolSize": 529, "labelFontSize": 23, "symbolOpacity": 1}}}}
        ]
      }]
    },
    {
      "title": {"text": "F", "anchor": "start", "frame": "group", "dx": -105, "font": "Liberation Sans", "fontSize": 46, "fontWeight": "bold", "color": "#000000", "offset": 59},
      "resolve": {"scale": {"color": "independent"}, "legend": {"color": "independent"}},
      "vconcat": [{
        "title": {"text": "WDJ  5th CD8⁺", "anchor": "middle", "frame": "group", "dx": 11, "offset": 60},
        "width": 1212, "height": 666,
        "data": {"values": [
          {"x": 0, "y": -1.12}, {"x": 0.301, "y": -1.19}, {"x": 0.477, "y": -1.335}, {"x": 0.602, "y": -1.39}, {"x": 0.699, "y": -1.48},
          {"x": 0.778, "y": -1.57}, {"x": 0.845, "y": -1.59}, {"x": 0.903, "y": -1.75}, {"x": 0.954, "y": -1.79}, {"x": 1.0, "y": -1.845},
          {"x": 1.041, "y": -1.88}, {"x": 1.079, "y": -1.93}, {"x": 1.114, "y": -1.94}, {"x": 1.146, "y": -1.955}, {"x": 1.176, "y": -1.96},
          {"x": 1.204, "y": -2.07}, {"x": 1.23, "y": -2.07}, {"x": 1.255, "y": -2.075}, {"x": 1.279, "y": -2.12}, {"x": 1.301, "y": -2.14},
          {"x": 1.322, "y": -2.15}, {"x": 1.342, "y": -2.16}, {"x": 1.362, "y": -2.17}, {"x": 1.38, "y": -2.23}, {"x": 1.398, "y": -2.255},
          {"x": 1.415, "y": -2.26}, {"x": 1.431, "y": -2.3}, {"x": 1.447, "y": -2.31}, {"x": 1.462, "y": -2.37}, {"x": 1.477, "y": -2.38},
          {"x": 1.491, "y": -2.42}, {"x": 1.505, "y": -2.49},
          {"x": 1.525, "y": -2.5}, {"x": 1.55, "y": -2.52}, {"x": 1.575, "y": -2.55}, {"x": 1.6, "y": -2.57}, {"x": 1.625, "y": -2.58},
          {"x": 1.65, "y": -2.6}, {"x": 1.675, "y": -2.62}, {"x": 1.7, "y": -2.64}, {"x": 1.725, "y": -2.66}, {"x": 1.75, "y": -2.68},
          {"x": 1.775, "y": -2.7}, {"x": 1.8, "y": -2.73}, {"x": 1.825, "y": -2.79}, {"x": 1.85, "y": -2.82}, {"x": 1.875, "y": -2.83},
          {"x": 1.9, "y": -2.87}, {"x": 1.925, "y": -2.9}, {"x": 1.95, "y": -2.91}, {"x": 1.975, "y": -2.92}, {"x": 2.0, "y": -2.93},
          {"x": 2.025, "y": -2.96}, {"x": 2.05, "y": -2.99}, {"x": 2.075, "y": -3.04}, {"x": 2.1, "y": -3.07}, {"x": 2.125, "y": -3.09},
          {"x": 2.15, "y": -3.12}, {"x": 2.175, "y": -3.16}, {"x": 2.2, "y": -3.19}, {"x": 2.225, "y": -3.22}, {"x": 2.25, "y": -3.25},
          {"x": 2.275, "y": -3.27}, {"x": 2.3, "y": -3.29}, {"x": 2.325, "y": -3.32}, {"x": 2.35, "y": -3.34}, {"x": 2.375, "y": -3.36},
          {"x": 2.4, "y": -3.39}, {"x": 2.425, "y": -3.43}, {"x": 2.45, "y": -3.45},
          {"x": 2.47, "y": -3.51}, {"x": 2.49, "y": -3.51}, {"x": 2.51, "y": -3.51}, {"x": 2.53, "y": -3.51},
          {"x": 2.55, "y": -3.59}, {"x": 2.57, "y": -3.59}, {"x": 2.59, "y": -3.59},
          {"x": 2.61, "y": -3.69}, {"x": 2.63, "y": -3.69}, {"x": 2.65, "y": -3.69}, {"x": 2.67, "y": -3.69}, {"x": 2.69, "y": -3.69},
          {"x": 2.71, "y": -3.815}, {"x": 2.73, "y": -3.815}, {"x": 2.75, "y": -3.815}, {"x": 2.77, "y": -3.815}, {"x": 2.79, "y": -3.815}, {"x": 2.81, "y": -3.815}, {"x": 2.83, "y": -3.815},
          {"x": 2.85, "y": -3.99}, {"x": 2.87, "y": -3.99}, {"x": 2.89, "y": -3.99}, {"x": 2.91, "y": -3.99}, {"x": 2.93, "y": -3.99}, {"x": 2.95, "y": -3.99},
          {"x": 2.97, "y": -3.99}, {"x": 2.99, "y": -3.99}, {"x": 3.01, "y": -3.99}, {"x": 3.03, "y": -3.99}, {"x": 3.05, "y": -3.99},
          {"x": 3.07, "y": -4.29}, {"x": 3.09, "y": -4.29}, {"x": 3.11, "y": -4.29}, {"x": 3.13, "y": -4.29}, {"x": 3.15, "y": -4.29}, {"x": 3.17, "y": -4.29},
          {"x": 3.19, "y": -4.29}, {"x": 3.21, "y": -4.29}, {"x": 3.23, "y": -4.29}, {"x": 3.25, "y": -4.29}, {"x": 3.27, "y": -4.29}, {"x": 3.29, "y": -4.29},
          {"x": 3.31, "y": -4.29}, {"x": 3.33, "y": -4.29}, {"x": 3.35, "y": -4.29}, {"x": 3.37, "y": -4.29}, {"x": 3.39, "y": -4.29}, {"x": 3.41, "y": -4.29},
          {"x": 3.43, "y": -4.29}, {"x": 3.45, "y": -4.29}, {"x": 3.47, "y": -4.29}, {"x": 3.49, "y": -4.29}
        ]},
        "encoding": {
          "x": {"field": "x", "type": "quantitative", "scale": {"domain": [0, 4], "nice": false},
                "axis": {"title": null, "values": [0, 0.5, 1, 1.5, 2, 2.5, 3, 3.5, 4], "format": ".2f", "labelFontWeight": "bold", "labelFontSize": 21, "domain": false, "labelPadding": 12, "labelFlush": false, "grid": true}},
          "y": {"field": "y", "type": "quantitative", "scale": {"domain": [-5, 0], "nice": false},
                "axis": {"title": "Frequency", "titleFontSize": 31, "titlePadding": 128, "values": [0, -0.5, -1, -1.5, -2, -2.5, -3, -3.5, -4, -4.5, -5], "format": ".2f", "labelFontWeight": "bold", "labelFontSize": 21, "labelPadding": 17, "grid": true}}
        },
        "layer": [
          {"mark": {"type": "tick", "orient": "vertical", "size": 16, "thickness": 3, "yOffset": 8, "color": "#1f77b4"},
           "encoding": {"y": {"datum": -5}}},
          {"mark": {"type": "tick", "orient": "horizontal", "size": 14, "thickness": 2, "xOffset": -8, "color": "#1f77b4"},
           "encoding": {"x": {"datum": 0}}},
          {"mark": {"type": "point", "shape": "circle", "filled": true, "size": 110, "fillOpacity": 0.5, "stroke": "#1f77b4", "strokeWidth": 1.5, "strokeOpacity": 1},
           "encoding": {"color": {"datum": "Clonotypes Frequency", "scale": {"domain": ["Clonotypes Frequency"], "range": ["#1f77b4"]},
                        "legend": {"title": null, "orient": "none", "legendX": 933, "legendY": -37, "symbolType": "circle", "symbolSize": 529, "labelFontSize": 23, "symbolOpacity": 1}}}}
        ]
      }]
    }
    ]
  }
  ]
}
]
}
